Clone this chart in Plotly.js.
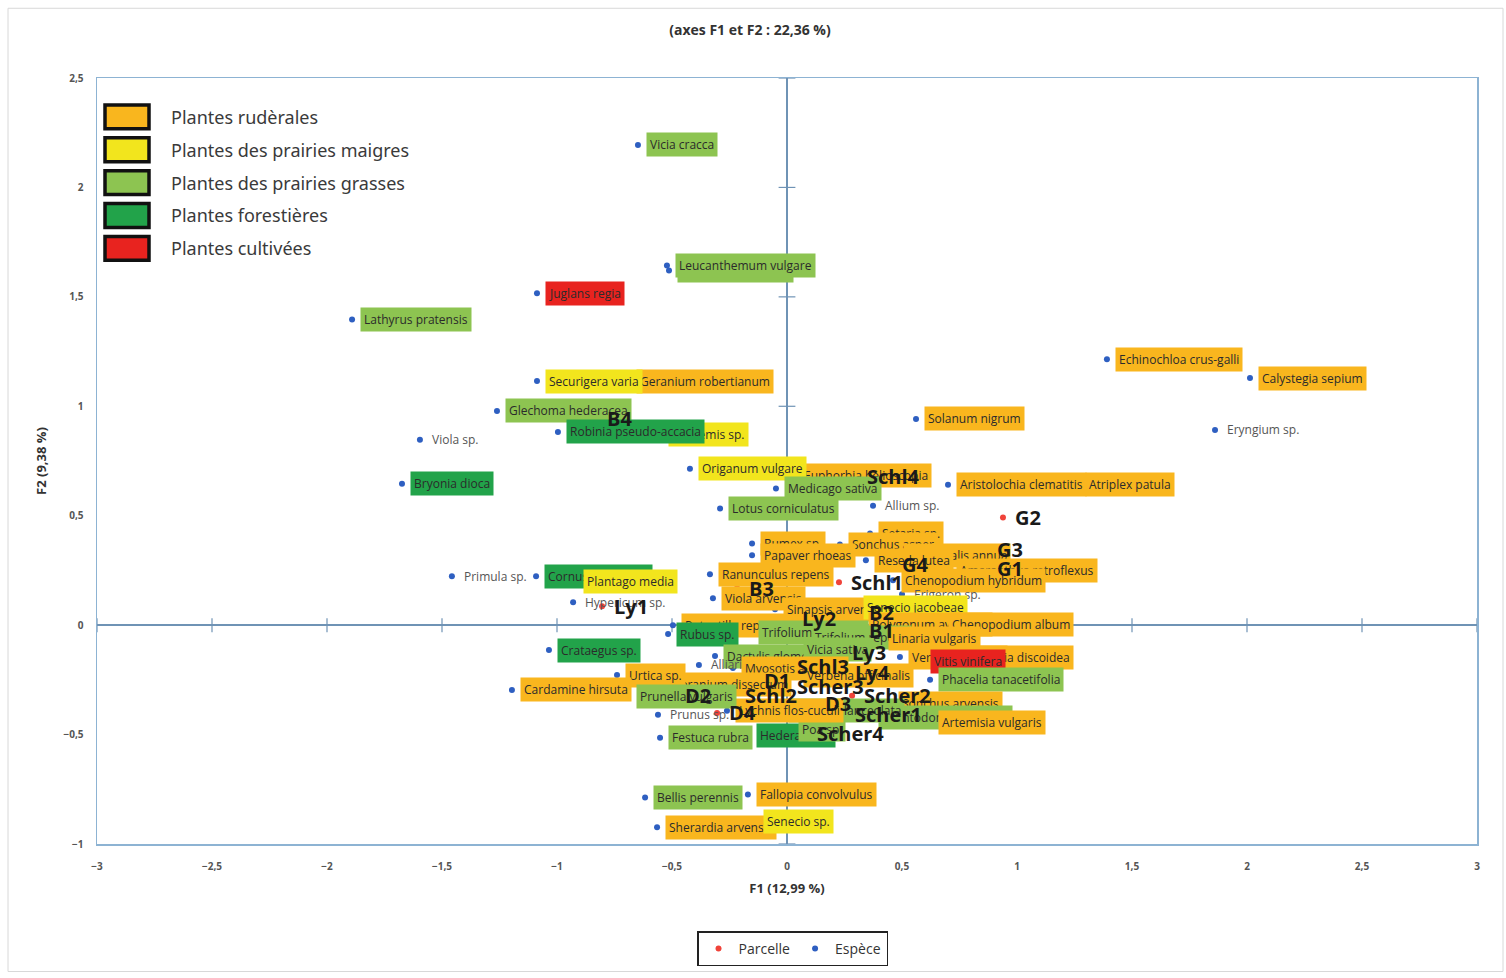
<!DOCTYPE html>
<html><head><meta charset="utf-8">
<script src="https://cdn.plot.ly/plotly-3.0.1.min.js"></script>
<style>html,body{margin:0;padding:0;background:#fff;}#chart{width:1506px;height:978px;}</style>
</head><body><div id="chart"></div>
<script>
// ---- Data ----
const speciesNames = [
 "Vicia cracca","Achillea millefolium","Leucanthemum vulgare","Juglans regia","Lathyrus pratensis",
 "Geranium robertianum","Securigera varia","Glechoma hederacea","Anthemis sp.","Robinia pseudo-accacia",
 "Viola sp.","Bryonia dioca","Euphorbia helioscopia","Origanum vulgare","Medicago sativa",
 "Lotus corniculatus","Allium sp.","Aristolochia clematitis","Atriplex patula","Solanum nigrum",
 "Echinochloa crus-galli","Calystegia sepium","Eryngium sp.","Setaria sp.","Sonchus asper",
 "Rumex sp.","Papaver rhoeas","Mercurialis annua","Reseda lutea","Amaranthus retroflexus",
 "Chenopodium hybridum","Ranunculus repens","Viola arvensis","Erigeron sp.","Sinapsis arvensis",
 "Senecio jacobeae","Polygonum aviculare","Chenopodium album","Potentilla reptans","Rubus sp.",
 "Trifolium pratense","Trifolium repens","Linaria vulgaris","Dactylis glomerata","Vicia sativa",
 "Alliaria petiolata","Myosotis arvensis","Veronica persica","Matricaria discoidea","Vitis vinifera",
 "Verbena officinalis","Phacelia tanacetifolia","Sonchus arvensis","Leontodon autumnalis","Artemisia vulgaris",
 "Plantago lanceolata","Festuca rubra","Hedera helix","Poa sp.","Prunus sp.",
 "Lychnis flos-cuculi","Geranium dissectum","Urtica sp.","Cardamine hirsuta","Prunella vulgaris",
 "Crataegus sp.","Primula sp.","Cornus sanguinea","Plantago media","Hypericum sp.",
 "Bellis perennis","Fallopia convolvulus","Sherardia arvensis","Senecio sp."
];
const speciesX = [
 -0.648,-0.513,-0.522,-1.087,-1.891,
 -0.691,-1.087,-1.261,-0.552,-0.996,
 -1.596,-1.674,0.022,-0.422,-0.048,
 -0.291,0.374,0.700,1.261,0.561,
 1.391,2.013,1.861,0.361,0.230,
 -0.152,-0.152,0.470,0.343,0.700,
 0.461,-0.335,-0.322,0.500,-0.052,
 0.296,0.317,0.665,-0.496,-0.517,
 -0.161,0.070,0.404,-0.313,0.035,
 -0.383,-0.235,0.491,0.687,0.587,
 0.035,0.622,0.448,0.361,0.622,
 -0.030,-0.552,-0.170,0.013,-0.561,
 -0.261,-0.552,-0.739,-1.196,-0.691,
 -1.035,-1.457,-1.091,-0.922,-0.930,
 -0.617,-0.170,-0.565,-0.139
];
const speciesY = [
 2.194,1.620,1.643,1.516,1.397,
 1.115,1.115,0.979,0.869,0.883,
 0.847,0.646,0.683,0.715,0.624,
 0.533,0.546,0.642,0.642,0.942,
 1.215,1.129,0.892,0.419,0.369,
 0.373,0.319,0.319,0.296,0.250,
 0.205,0.232,0.123,0.141,0.073,
 0.082,0.005,0.005,0.000,-0.041,
 -0.032,-0.055,-0.059,-0.141,-0.109,
 -0.182,-0.196,-0.146,-0.150,-0.164,
 -0.232,-0.250,-0.360,-0.423,-0.446,
 -0.391,-0.514,-0.505,-0.478,-0.410,
 -0.391,-0.273,-0.228,-0.296,-0.328,
 -0.114,0.223,0.223,0.200,0.105,
 -0.787,-0.774,-0.924,-0.897
];
const speciesGroup = [
 "G","G","G","C","G",
 "R","M","G","M","F",
 "","F","R","M","G",
 "G","","R","R","R",
 "R","R","","R","R",
 "R","R","R","R","R",
 "R","R","R","","R",
 "M","R","R","R","F",
 "G","G","R","G","G",
 "","R","R","R","C",
 "R","G","R","G","R",
 "G","G","F","G","",
 "R","R","R","R","G",
 "F","","F","M","",
 "G","R","R","M"
];
const parcelNames = ["G2","G3","G1","G4","Schl1","Schl4","B3","B4","Ly1","Ly2","B2","B1","Ly3","Ly4","Schl3","D1","Schl2","Scher3","Scher2","D2","D4","D3","Scher1","Scher4"];
const parcelX = [0.939,0.861,0.861,0.448,0.226,0.296,-0.217,-0.835,-0.804,0.013,0.304,0.304,0.230,0.243,-0.009,-0.152,-0.235,-0.009,0.283,-0.496,-0.304,0.113,0.243,0.078];
const parcelY = [0.492,0.346,0.259,0.278,0.196,0.678,0.168,0.942,0.086,0.032,0.059,-0.023,-0.127,-0.218,-0.187,-0.255,-0.323,-0.282,-0.323,-0.323,-0.401,-0.360,-0.410,-0.496];

const groupCodes = ["R","M","G","F","C"];
const groupNames = ["Plantes rudèrales","Plantes des prairies maigres","Plantes des prairies grasses","Plantes forestières","Plantes cultivées"];
const groupColors = ["#F9B61E","#F2E51D","#8DC451","#22A34A","#E8231F"];

const xTicks = [-3,-2.5,-2,-1.5,-1,-0.5,0,0.5,1,1.5,2,2.5,3];
const yTicks = [-1,-0.5,0,0.5,1,1.5,2,2.5];

// ---- Build ----
const colorOf = {};
groupCodes.forEach((c,i)=>colorOf[c]=groupColors[i]);

const labelFont = "Liberation Sans Narrow, Arial Narrow, Open Sans, sans-serif";
const annotations = [];
speciesNames.forEach((n,i)=>{
  const g = speciesGroup[i];
  annotations.push({
    x: speciesX[i], y: speciesY[i], xref:'x', yref:'y', text:n, showarrow:false,
    xanchor:'left', yanchor:'middle', xshift:8,
    bgcolor: g ? colorOf[g] : 'rgba(0,0,0,0)', borderpad:3,
    font:{family:labelFont, size:12, color: g ? '#2b2b2b' : '#555'}
  });
});
parcelNames.forEach((n,i)=>{
  annotations.push({
    x: parcelX[i], y: parcelY[i], xref:'x', yref:'y', text:n, showarrow:false,
    xanchor:'left', yanchor:'middle', xshift:10,
    font:{family:"Open Sans, sans-serif", size:20, weight:'bold', color:'#1a1a1a'}
  });
});

// category legend (top-left), paper coordinates
const shapes = [];
const pxToPaperX = px => (px-97)/1380;
const pxToPaperY = py => (847-py)/769;
groupNames.forEach((n,i)=>{
  const cy = 117 + i*33;
  shapes.push({type:'rect', xref:'paper', yref:'paper',
    x0:pxToPaperX(105), x1:pxToPaperX(149), y0:pxToPaperY(cy+12), y1:pxToPaperY(cy-12),
    fillcolor:groupColors[i], line:{color:'#111', width:3.5}});
  annotations.push({xref:'paper', yref:'paper', x:pxToPaperX(169), y:pxToPaperY(cy),
    xanchor:'left', yanchor:'middle', showarrow:false, text:n,
    font:{family:"Noto Sans, Open Sans, sans-serif", size:18, color:'#3a3a3a'}});
});
// outer frame
shapes.push({type:'rect', xref:'paper', yref:'paper', layer:'below',
  x0:pxToPaperX(8), x1:pxToPaperX(1503), y0:pxToPaperY(975), y1:pxToPaperY(8),
  line:{color:'#d8d8d8', width:1}, fillcolor:'rgba(0,0,0,0)'});

const traces = [
  {type:'scatter', mode:'markers', x:xTicks, y:xTicks.map(()=>0), hoverinfo:'skip', showlegend:false,
   marker:{symbol:'line-ns', size:10, line:{color:'#6F93B5', width:1.2}}},
  {type:'scatter', mode:'markers', x:yTicks.map(()=>0), y:yTicks, hoverinfo:'skip', showlegend:false,
   marker:{symbol:'line-ew', size:12, line:{color:'#6F93B5', width:1.2}}},
  {type:'scatter', mode:'markers', name:'Espèce', x:speciesX, y:speciesY, legendrank:2,
   marker:{color:'#2E5FC1', size:6}},
  {type:'scatter', mode:'markers', name:'Parcelle', x:parcelX, y:parcelY, legendrank:1,
   marker:{color:'#F0433A', size:6}}
];

const layout = {
  width:1506, height:978,
  margin:{l:97, r:29, t:78, b:131},
  paper_bgcolor:'#fff', plot_bgcolor:'#fff',
  separators:', ',
  title:{text:'(axes F1 et F2 : 22,36 %)', xref:'container', yref:'container', x:0.498, y:0.969,
    xanchor:'center', yanchor:'middle', font:{family:'Open Sans, sans-serif', size:14, weight:'bold', color:'#333'}},
  xaxis:{range:[-3,3], tickvals:xTicks, showgrid:false, zeroline:true, zerolinecolor:'#6F93B5', zerolinewidth:1.5,
    showline:true, mirror:true, linecolor:'#8DB3D3', linewidth:1.5, ticks:'', ticklabelstandoff:12,
    tickfont:{family:labelFont, size:10, weight:'bold', color:'#555'},
    title:{text:'F1 (12,99 %)', standoff:12, font:{family:'Open Sans, sans-serif', size:13, weight:'bold', color:'#333'}}},
  yaxis:{range:[-1,2.5], tickvals:yTicks, showgrid:false, zeroline:true, zerolinecolor:'#6F93B5', zerolinewidth:1.5,
    showline:true, mirror:true, linecolor:'#8DB3D3', linewidth:1.5, ticks:'', ticklabelstandoff:10,
    tickfont:{family:labelFont, size:10, weight:'bold', color:'#555'},
    title:{text:'F2 (9,38 %)', standoff:14, font:{family:'Open Sans, sans-serif', size:13, weight:'bold', color:'#333'}}},
  showlegend:true,
  legend:{orientation:'h', x:0.504, xanchor:'center', y:-0.114, yanchor:'top',
    bordercolor:'#222', borderwidth:1.5, bgcolor:'#fff',
    font:{family:'Open Sans, sans-serif', size:14, color:'#333'}, itemwidth:30},
  shapes:shapes,
  annotations:annotations
};

Plotly.newPlot('chart', traces, layout, {displayModeBar:false, staticPlot:true});
</script>
</body></html>
